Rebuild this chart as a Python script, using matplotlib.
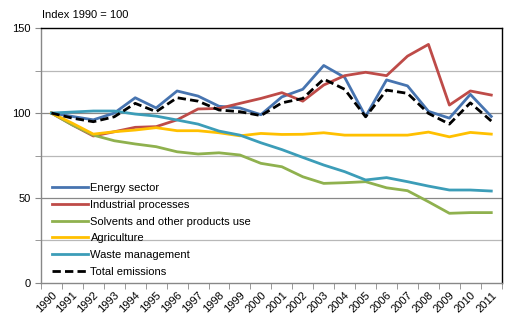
import numpy as np
import matplotlib.pyplot as plt

plt.rcParams['font.family'] = ['Liberation Sans', 'DejaVu Sans']

# Index 1990 = 100
years = [str(y) for y in range(1990, 2012)]

energy = [100, 98, 96, 100, 109, 103, 113, 110, 104, 103, 99, 109.5, 114, 128,
          121, 98, 119.5, 116, 101, 97, 111, 98]
industrial = [100, 93, 86.5, 89, 91.6, 92, 96, 102.4, 102.7, 105.7, 108.6, 112, 107,
              116.5, 122, 124, 122, 133.5, 140.4, 104.7, 113, 110.6]
solvents = [100, 93, 87, 83.7, 81.8, 80.2, 77.2, 75.9, 76.6, 75.3, 70.4, 68.4, 62.5,
            58.6, 59, 59.6, 56, 54.3, 47.8, 41, 41.4, 41.4]
agriculture = [100, 94, 87.6, 89, 90, 91.4, 89.6, 89.6, 88.4, 86.6, 88, 87.4, 87.5,
               88.4, 87, 87, 87, 87, 88.8, 86, 88.6, 87.6]
waste = [100, 100.6, 101.2, 101.2, 99.4, 98.2, 95.9, 93.5, 89.4, 87, 82.5, 78.5,
         73.9, 69.4, 65.5, 60.6, 62, 59.6, 57, 54.7, 54.7, 54.1]
total = [100, 97, 94.9, 97.8, 105.7, 100.8, 109, 107, 101.8, 100.8, 98.5, 106,
         108.6, 120, 114, 97.8, 113.5, 111.6, 99.8, 93.5, 106, 95.3]

series = [
    ('Energy sector', energy, '#4774B0', '-'),
    ('Industrial processes', industrial, '#BE4B48', '-'),
    ('Solvents and other products use', solvents, '#8FB14E', '-'),
    ('Agriculture', agriculture, '#FFC000', '-'),
    ('Waste management', waste, '#3C9DB8', '-'),
    ('Total emissions', total, 'black', '--'),
]

fig = plt.figure(figsize=(5.12, 3.23), dpi=100)
ax = fig.add_axes([0.080, 0.124, 0.900, 0.789])

x = np.arange(len(years))
for name, vals, col, ls in series:
    ax.plot(x, vals, color=col, linestyle=ls, linewidth=2, label=name,
            dashes=(3, 1.5) if ls == '--' else (None, None))

ax.set_xlim(-0.5, len(years) - 0.5)
ax.set_ylim(0, 150)

# grid
ax.set_yticks([0, 50, 100, 150])
ax.set_yticks([25, 75, 125], minor=True)
for v in [50, 100]:
    ax.axhline(v, color='#888888', linewidth=0.9, zorder=0)
for v in [25, 75, 125]:
    ax.axhline(v, color='#b8b8b8', linewidth=0.9, zorder=0)

ax.set_xticks(x)
ax.set_xticklabels(years, rotation=45, ha='right', rotation_mode='anchor')
ax.set_xticks(np.arange(-0.5, len(years)), minor=True)
ax.tick_params(axis='x', which='major', length=0, labelsize=8, pad=5)
ax.tick_params(axis='x', which='minor', length=4, color='#888888')
ax.tick_params(axis='y', which='both', length=4, color='#888888', labelsize=8)

ax.spines['left'].set_color('#888888')
ax.spines['bottom'].set_color('#888888')
ax.spines['top'].set_color('black')
ax.spines['right'].set_color('black')
for s in ax.spines.values():
    s.set_linewidth(1)

ax.legend(loc='lower left', bbox_to_anchor=(0.005, -0.01), frameon=False,
          fontsize=8, handlelength=3.2, handletextpad=0.25, labelspacing=0.6,
          borderaxespad=0.4)

fig.text(0.082, 0.955, 'Index 1990 = 100', fontsize=8, va='center')

fig.savefig('out.png', dpi=100)
